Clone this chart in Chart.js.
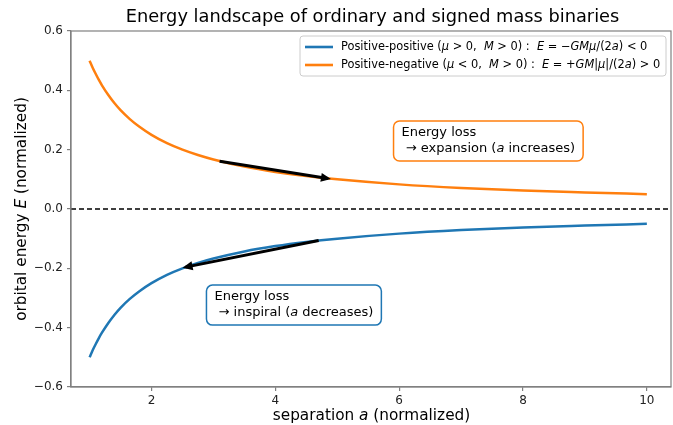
<!DOCTYPE html>
<html>
<head>
<meta charset="utf-8">
<script src="https://cdn.jsdelivr.net/npm/chart.js@4.4.1/dist/chart.umd.min.js"></script>
<style>
  body { margin: 0; background: #fff; }
  canvas { display: block; }
</style>
</head>
<body>
<canvas id="energyChart" width="673" height="425"></canvas>
<script>
// values
const separation = [1, 1.05, 1.1, 1.15, 1.2, 1.3, 1.4, 1.5, 1.65, 1.8, 2, 2.25, 2.5, 2.75, 3, 3.5, 4, 4.5, 5, 6, 7, 8, 9, 10];
const energyPositive = [-0.5, -0.476, -0.455, -0.435, -0.417, -0.385, -0.357, -0.333, -0.303, -0.278, -0.25, -0.222, -0.2, -0.182, -0.167, -0.143, -0.125, -0.111, -0.1, -0.083, -0.071, -0.0625, -0.056, -0.05];
const energyNegative = [0.5, 0.476, 0.455, 0.435, 0.417, 0.385, 0.357, 0.333, 0.303, 0.278, 0.25, 0.222, 0.2, 0.182, 0.167, 0.143, 0.125, 0.111, 0.1, 0.083, 0.071, 0.0625, 0.056, 0.05];

const arrowOrangeA = [3.1, 4.85];
const arrowOrangeE = [0.161, 0.103];
const arrowBlueA = [4.7, 2.55];
const arrowBlueE = [-0.106, -0.196];

const xTicks = [2, 4, 6, 8, 10];
const yTicks = [-0.6, -0.4, -0.2, 0.0, 0.2, 0.4, 0.6];

const BLUE = '#1f77b4';
const ORANGE = '#ff7f0e';
const FONT = '"DejaVu Sans", sans-serif';

function pts(xs, ys) {
    return xs.map((x, i) => ({ x: x, y: ys[i] }));
}

// draw a line of text made of normal / italic runs
function drawRuns(ctx, runs, x, y, size) {
    let cx = x;
    runs.forEach(r => {
        ctx.font = (r[1] ? 'italic ' : '') + size + 'px ' + FONT;
        ctx.fillText(r[0], cx, y);
        cx += ctx.measureText(r[0]).width;
    });
    return cx - x;
}
function runsWidth(ctx, runs, size) {
    let w = 0;
    runs.forEach(r => {
        ctx.font = (r[1] ? 'italic ' : '') + size + 'px ' + FONT;
        w += ctx.measureText(r[0]).width;
    });
    return w;
}

const legendRows = [
    { color: BLUE, runs: [['Positive-positive (', 0], ['\u03bc', 1], [' > 0,  ', 0], ['M', 1], [' > 0) :  ', 0], ['E', 1], [' = \u2212', 0], ['GM\u03bc', 1], ['/(2', 0], ['a', 1], [') < 0', 0]] },
    { color: ORANGE, runs: [['Positive-negative (', 0], ['\u03bc', 1], [' < 0,  ', 0], ['M', 1], [' > 0) :  ', 0], ['E', 1], [' = +', 0], ['GM|\u03bc|', 1], ['/(2', 0], ['a', 1], [') > 0', 0]] }
];

const notes = [
    { a: 7.44, e: 0.229, color: ORANGE, lines: [[['Energy loss', 0]], [[' \u2192 expansion (', 0], ['a', 1], [' increases)', 0]]] },
    { a: 4.30, e: -0.324, color: BLUE, lines: [[['Energy loss', 0]], [[' \u2192 inspiral (', 0], ['a', 1], [' decreases)', 0]]] }
];

const decorations = {
    id: 'decorations',
    beforeDatasetsDraw(chart) {
        const ctx = chart.ctx;
        const area = chart.chartArea;
        const y0 = chart.scales.y.getPixelForValue(0);
        ctx.save();
        ctx.strokeStyle = '#000';
        ctx.lineWidth = 1.4;
        ctx.setLineDash([5, 3]);
        ctx.beginPath();
        ctx.moveTo(area.left, y0);
        ctx.lineTo(area.right, y0);
        ctx.stroke();
        ctx.restore();
    },
    afterDatasetsDraw(chart) {
        const ctx = chart.ctx;
        // arrow heads
        chart.data.datasets.forEach((ds, i) => {
            if (!ds.arrow) return;
            const meta = chart.getDatasetMeta(i).data;
            const p0 = meta[meta.length - 2], p1 = meta[meta.length - 1];
            const ang = Math.atan2(p1.y - p0.y, p1.x - p0.x);
            const tipX = p1.x + 3 * Math.cos(ang), tipY = p1.y + 3 * Math.sin(ang);
            const len = 10, hw = 4.5;
            const bx = tipX - len * Math.cos(ang), by = tipY - len * Math.sin(ang);
            ctx.save();
            ctx.fillStyle = '#000';
            ctx.beginPath();
            ctx.moveTo(tipX, tipY);
            ctx.lineTo(bx + hw * Math.sin(ang), by - hw * Math.cos(ang));
            ctx.lineTo(bx - hw * Math.sin(ang), by + hw * Math.cos(ang));
            ctx.closePath();
            ctx.fill();
            ctx.restore();
        });
    },
    afterDraw(chart) {
        const ctx = chart.ctx;
        const area = chart.chartArea;
        ctx.save();
        // full frame
        ctx.strokeStyle = '#808080';
        ctx.lineWidth = 1.2;
        ctx.strokeRect(area.left, area.top, area.right - area.left, area.bottom - area.top);

        // title and axis labels
        ctx.fillStyle = '#000';
        ctx.textBaseline = 'middle';
        ctx.textAlign = 'center';
        ctx.font = '17.8px ' + FONT;
        ctx.fillText('Energy landscape of ordinary and signed mass binaries', 372.5, 17);

        ctx.textAlign = 'left';
        const xl = [['separation ', 0], ['a', 1], [' (normalized)', 0]];
        const xw = runsWidth(ctx, xl, 15.3);
        drawRuns(ctx, xl, 371.5 - xw / 2, 416, 15.3);

        const yl = [['orbital energy ', 0], ['E', 1], [' (normalized)', 0]];
        const yw = runsWidth(ctx, yl, 15.3);
        ctx.save();
        ctx.translate(22, (area.top + area.bottom) / 2);
        ctx.rotate(-Math.PI / 2);
        drawRuns(ctx, yl, -yw / 2, 0, 15.3);
        ctx.restore();

        // annotation boxes
        notes.forEach(n => {
            const cx = chart.scales.x.getPixelForValue(n.a);
            const cy = chart.scales.y.getPixelForValue(n.e);
            const size = 13, lh = 16;
            const w = Math.max(...n.lines.map(l => runsWidth(ctx, l, size))) + 16;
            const h = n.lines.length * lh + 8;
            ctx.fillStyle = '#fff';
            ctx.strokeStyle = n.color;
            ctx.lineWidth = 1.5;
            ctx.beginPath();
            ctx.roundRect(cx - w / 2, cy - h / 2, w, h, 6);
            ctx.fill();
            ctx.stroke();
            ctx.fillStyle = '#000';
            n.lines.forEach((l, i) => {
                drawRuns(ctx, l, cx - w / 2 + 8, cy - h / 2 + 4 + lh / 2 + i * lh, size);
            });
        });

        // legend
        const lx = 300, ly = 36, lw = 366, lhgt = 40;
        ctx.fillStyle = 'rgba(255,255,255,0.85)';
        ctx.strokeStyle = '#cccccc';
        ctx.lineWidth = 1;
        ctx.beginPath();
        ctx.roundRect(lx, ly, lw, lhgt, 3);
        ctx.fill();
        ctx.stroke();
        legendRows.forEach((row, i) => {
            const y = ly + 11 + i * 18;
            ctx.strokeStyle = row.color;
            ctx.lineWidth = 2.6;
            ctx.beginPath();
            ctx.moveTo(lx + 5, y);
            ctx.lineTo(lx + 33, y);
            ctx.stroke();
            ctx.fillStyle = '#000';
            drawRuns(ctx, row.runs, lx + 41, y, 11.4);
        });
        ctx.restore();
    }
};

const tickMinus = v => (Math.abs(v) < 1e-9 ? '0.0' : v.toFixed(1)).replace('-', '\u2212');

new Chart(document.getElementById('energyChart').getContext('2d'), {
    type: 'line',
    data: {
        datasets: [
            { data: pts(arrowOrangeA, arrowOrangeE), borderColor: '#000', borderWidth: 3, pointRadius: 0, arrow: true, order: 0, borderCapStyle: 'butt' },
            { data: pts(arrowBlueA, arrowBlueE), borderColor: '#000', borderWidth: 3, pointRadius: 0, arrow: true, order: 0, borderCapStyle: 'butt' },
            { label: 'Positive-positive', data: pts(separation, energyPositive), borderColor: BLUE, borderWidth: 2.5, pointRadius: 0, cubicInterpolationMode: 'monotone', order: 1 },
            { label: 'Positive-negative', data: pts(separation, energyNegative), borderColor: ORANGE, borderWidth: 2.5, pointRadius: 0, cubicInterpolationMode: 'monotone', order: 1 }
        ]
    },
    options: {
        responsive: false,
        animation: false,
        devicePixelRatio: 1,
        layout: { padding: { top: 31, right: 2, left: 0, bottom: 0 } },
        plugins: { legend: { display: false }, title: { display: false }, tooltip: { enabled: false } },
        scales: {
            x: {
                type: 'linear',
                min: 0.7,
                max: 10.39,
                afterFit: s => { s.height = 38; },
                afterBuildTicks: s => { s.ticks = xTicks.map(v => ({ value: v })); },
                grid: { drawOnChartArea: false, tickLength: 4, color: '#808080', lineWidth: 1.2 },
                border: { color: '#808080', width: 1.2 },
                ticks: { font: { family: FONT, size: 12 }, color: '#222', padding: 3, maxRotation: 0, callback: v => String(v) }
            },
            y: {
                type: 'linear',
                min: -0.6,
                max: 0.6,
                afterFit: s => { s.width = 71; },
                afterBuildTicks: s => { s.ticks = yTicks.map(v => ({ value: v })); },
                grid: { drawOnChartArea: false, tickLength: 4, color: '#808080', lineWidth: 1.2 },
                border: { color: '#808080', width: 1.2 },
                ticks: { font: { family: FONT, size: 12 }, color: '#222', padding: 4, callback: tickMinus }
            }
        }
    },
    plugins: [decorations]
});
</script>
</body>
</html>
